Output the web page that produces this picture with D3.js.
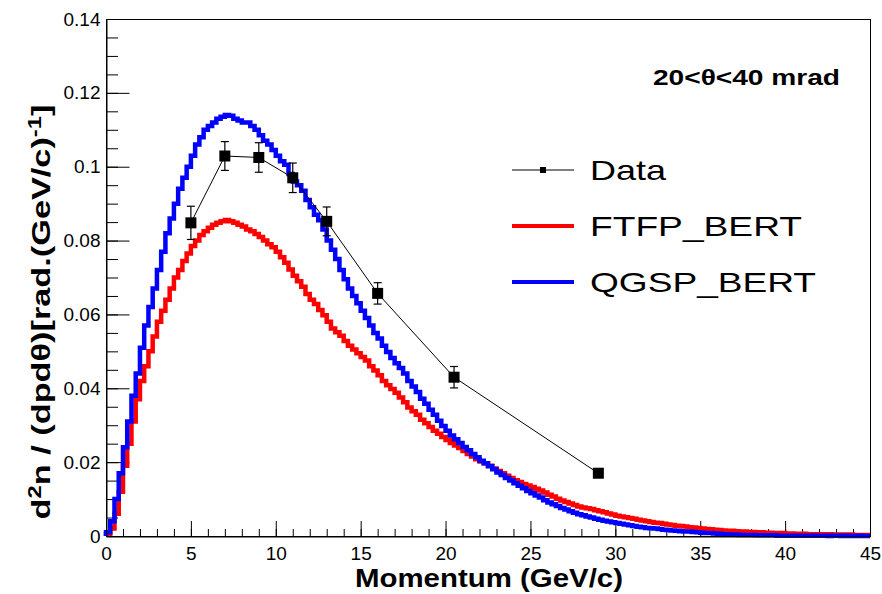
<!DOCTYPE html>
<html>
<head>
<meta charset="utf-8">
<script src="https://cdn.jsdelivr.net/npm/d3@7"></script>
<style>
body { margin: 0; background: #fff; }
svg text { font-family: "Liberation Sans", Arial, Helvetica, sans-serif; fill: #000; }
</style>
</head>
<body>
<div id="chart"></div>
<script>
// histogram bins: 0.25 GeV/c wide, 0..45
var binWidth = 0.25

// FTFP_BERT (red), one row = 1 GeV/c
var ftfpValues = [
    0.0005, 0.002, 0.006, 0.012,
    0.019, 0.025, 0.031, 0.037,
    0.042, 0.046, 0.050, 0.054,
    0.058, 0.061, 0.064, 0.067,
    0.070, 0.072, 0.0745, 0.0765,
    0.0785, 0.080, 0.0815, 0.0825,
    0.0835, 0.0843, 0.0848, 0.0852,
    0.0856, 0.0852, 0.0848, 0.0843,
    0.0838, 0.083, 0.0825, 0.0818,
    0.081, 0.080, 0.079, 0.0782,
    0.077, 0.0755, 0.074, 0.0722,
    0.0705, 0.069, 0.0675, 0.0655,
    0.064, 0.0628, 0.0612, 0.0598,
    0.058, 0.0562, 0.0552, 0.0542,
    0.0528, 0.0515, 0.0505, 0.0495,
    0.0485, 0.0475, 0.046, 0.0448,
    0.0435, 0.042, 0.0408, 0.0398,
    0.0388, 0.0375, 0.0362, 0.0348,
    0.0338, 0.0328, 0.0315, 0.0305,
    0.0295, 0.0285, 0.0277, 0.0268,
    0.026, 0.0252, 0.0245, 0.0238,
    0.023, 0.0222, 0.0215, 0.0208,
    0.0202, 0.0197, 0.019, 0.0183,
    0.0176, 0.017, 0.0163, 0.0157,
    0.0151, 0.0146, 0.0141, 0.0137,
    0.0133, 0.0128, 0.0123, 0.0118,
    0.0112, 0.0107, 0.0101, 0.0096,
    0.0092, 0.0088, 0.0084, 0.008,
    0.0077, 0.0075, 0.0073, 0.007,
    0.0067, 0.0064, 0.0061, 0.0058,
    0.0055, 0.0053, 0.0051, 0.0049,
    0.0047, 0.0044, 0.0042, 0.004,
    0.0038, 0.0036, 0.0035, 0.0033,
    0.0031, 0.003, 0.0028, 0.0027,
    0.0026, 0.0024, 0.0023, 0.0022,
    0.002, 0.0019, 0.0018, 0.0017,
    0.0016, 0.0015, 0.0014, 0.0014,
    0.0013, 0.0012, 0.0012, 0.0011,
    0.0011, 0.001, 0.001, 0.0009,
    0.0009, 0.0008, 0.0008, 0.0008,
    0.0007, 0.0007, 0.0006, 0.0006,
    0.0006, 0.0005, 0.0005, 0.0005,
    0.0005, 0.0004, 0.0005, 0.0004,
    0.0004, 0.0004, 0.0003, 0.0004,
    0.0003, 0.0003, 0.0003, 0.0003
]

// QGSP_BERT (blue)
var qgspValues = [
    0.001, 0.004, 0.010, 0.017,
    0.024, 0.031, 0.038, 0.044,
    0.051, 0.057, 0.062, 0.067,
    0.072, 0.077, 0.082, 0.086,
    0.090, 0.094, 0.097, 0.100,
    0.103, 0.106, 0.108, 0.110,
    0.111, 0.112, 0.113, 0.1135,
    0.114, 0.1138, 0.113, 0.1125,
    0.112, 0.112, 0.111, 0.110,
    0.1085, 0.107, 0.106, 0.1045,
    0.103, 0.1015, 0.1005, 0.098,
    0.096, 0.095, 0.0935, 0.091,
    0.089, 0.087, 0.0855, 0.083,
    0.080, 0.0775, 0.075, 0.072,
    0.0695, 0.067, 0.065, 0.063,
    0.061, 0.059, 0.057, 0.055,
    0.0535, 0.0515, 0.0498, 0.0482,
    0.0468, 0.0455, 0.044, 0.042,
    0.0405, 0.039, 0.0372, 0.0358,
    0.0342, 0.0328, 0.0312, 0.0298,
    0.0285, 0.0272, 0.0262, 0.0252,
    0.0241, 0.0232, 0.0222, 0.0213,
    0.0204, 0.0197, 0.0189, 0.0181,
    0.0172, 0.0165, 0.0157, 0.015,
    0.0143, 0.0136, 0.0129, 0.0122,
    0.0116, 0.011, 0.0104, 0.0097,
    0.0091, 0.0086, 0.0081, 0.0076,
    0.0072, 0.0067, 0.0063, 0.0059,
    0.0056, 0.0053, 0.0050, 0.0047,
    0.0044, 0.0041, 0.0039, 0.0037,
    0.0035, 0.0033, 0.0031, 0.0029,
    0.0027, 0.0025, 0.0024, 0.0022,
    0.0021, 0.002, 0.0019, 0.0017,
    0.0016, 0.0015, 0.0014, 0.0013,
    0.0012, 0.0012, 0.0011, 0.001,
    0.0009, 0.0008, 0.0008, 0.0007,
    0.0006, 0.0005, 0.0005, 0.0004,
    0.0004, 0.0003, 0.0003, 0.0003,
    0.0003, 0.0002, 0.0002, 0.0002,
    0.0002, 0.0002, 0.0001, 0.0001,
    0.0001, 0.0001, 0.0001, 0.0001,
    0.0001, 0.0001, 0.0001, 0.0001,
    0.0001, 0.0001, 0.0000, 0.0001,
    0.0001, 0.0000, 0.0001, 0.0000,
    0.0000, 0.0001, 0.0000, 0.0000
]

// measured points
var dataMomentum = [5, 7, 9, 11, 13, 16, 20.5, 29]
var dataValues = [0.0848, 0.1029, 0.1025, 0.0970, 0.0852, 0.0657, 0.0430, 0.0170]
var dataErrors = [0.0045, 0.0039, 0.0040, 0.0040, 0.0039, 0.0029, 0.0029, 0.0010]

var xTicks = [0, 5, 10, 15, 20, 25, 30, 35, 40, 45]
var yTicks = [0, 0.02, 0.04, 0.06, 0.08, 0.1, 0.12, 0.14]
var yTickLabels = ["0", "0.02", "0.04", "0.06", "0.08", "0.1", "0.12", "0.14"]
var legendLabels = ["Data", "FTFP_BERT", "QGSP_BERT"]

function drawChart() {
    var width = 882, height = 594
    var padL = 106, padR = 870, padT = 19, padB = 536

    var svg = d3.select('#chart').append('svg')
        .attr('width', width)
        .attr('height', height)

    svg.append('rect').attr('width', width).attr('height', height).attr('fill', '#fff')

    var x = d3.scaleLinear().domain([0, 45]).range([padL, padR])
    var y = d3.scaleLinear().domain([0, 0.14]).range([padB, padT])

    // minor ticks first
    svg.append('g')
        .attr('transform', 'translate(' + (padL + 0.5) + ',0)')
        .call(d3.axisLeft(y).tickValues(d3.range(0, 0.1401, 0.005)).tickSize(-11.5).tickFormat(''))
        .call(function(g) { g.select('.domain').remove() })

    svg.append('g')
        .attr('transform', 'translate(0,' + (padB + 0.5) + ')')
        .call(d3.axisBottom(x).tickValues(d3.range(0, 46, 1)).tickSize(-7.5).tickFormat(''))
        .call(function(g) { g.select('.domain').remove() })

    // major ticks + labels
    var yAxis = svg.append('g')
        .attr('transform', 'translate(' + (padL + 0.5) + ',0)')
        .call(d3.axisLeft(y).tickValues(yTicks).tickSize(-23).tickSizeOuter(0).tickPadding(6)
            .tickFormat(function(d, i) { return yTickLabels[i] }))
    yAxis.attr('font-size', 19).attr('font-family', null)

    var xAxis = svg.append('g')
        .attr('transform', 'translate(0,' + (padB + 0.5) + ')')
        .call(d3.axisBottom(x).tickValues(xTicks).tickSize(-15.5).tickSizeOuter(0).tickPadding(10))
    xAxis.attr('font-size', 19).attr('font-family', null)

    svg.selectAll('.tick line').attr('stroke', '#000')
    svg.selectAll('.domain').attr('stroke', '#000')

    // histograms as steps
    function histPoints(values) {
        var pts = [[0, 0]]
        values.forEach(function(v, i) { pts.push([i * binWidth, v]) })
        pts.push([45, values[values.length - 1]])
        return pts
    }

    var stepLine = d3.line()
        .x(function(d) { return x(d[0]) })
        .y(function(d) { return y(d[1]) })
        .curve(d3.curveStepAfter)

    svg.append('path')
        .datum(histPoints(ftfpValues))
        .attr('d', stepLine)
        .attr('fill', 'none')
        .attr('stroke', '#ff0000')
        .attr('stroke-width', 4.5)

    svg.append('path')
        .datum(histPoints(qgspValues))
        .attr('d', stepLine)
        .attr('fill', 'none')
        .attr('stroke', '#0000ff')
        .attr('stroke-width', 4.5)

    // data: line, error bars, markers
    var pts = dataMomentum.map(function(p, i) { return { p: p, v: dataValues[i], e: dataErrors[i] } })

    svg.append('path')
        .datum(pts)
        .attr('d', d3.line().x(function(d) { return x(d.p) }).y(function(d) { return y(d.v) }))
        .attr('fill', 'none')
        .attr('stroke', '#000')
        .attr('stroke-width', 1)

    var errG = svg.append('g').attr('stroke', '#000').attr('stroke-width', 1.2)
    pts.forEach(function(d) {
        var cx = x(d.p)
        errG.append('line').attr('x1', cx).attr('x2', cx).attr('y1', y(d.v - d.e)).attr('y2', y(d.v + d.e))
        errG.append('line').attr('x1', cx - 4).attr('x2', cx + 4).attr('y1', y(d.v - d.e)).attr('y2', y(d.v - d.e))
        errG.append('line').attr('x1', cx - 4).attr('x2', cx + 4).attr('y1', y(d.v + d.e)).attr('y2', y(d.v + d.e))
    })

    svg.selectAll('.marker')
        .data(pts)
        .enter().append('rect')
        .attr('class', 'marker')
        .attr('x', function(d) { return x(d.p) - 5.5 })
        .attr('y', function(d) { return y(d.v) - 5.5 })
        .attr('width', 11)
        .attr('height', 11)
        .attr('fill', '#000')

    // frame
    svg.append('rect')
        .attr('x', padL + 0.5).attr('y', padT + 0.5)
        .attr('width', padR - padL).attr('height', padB - padT)
        .attr('fill', 'none').attr('stroke', '#000').attr('stroke-width', 1)

    // legend
    var legendY = [170, 226, 282]
    var legendColors = ['#000', '#ff0000', '#0000ff']
    var legendWidths = [76, 212, 226]
    legendLabels.forEach(function(label, i) {
        var ly = legendY[i]
        svg.append('line')
            .attr('x1', 512).attr('x2', 574).attr('y1', ly).attr('y2', ly)
            .attr('stroke', legendColors[i])
            .attr('stroke-width', i == 0 ? 1 : 4)
        if (i == 0) {
            svg.append('rect').attr('x', 540).attr('y', ly - 3).attr('width', 6).attr('height', 6).attr('fill', '#000')
        }
        svg.append('text')
            .attr('x', 590).attr('y', ly + 10)
            .attr('font-size', 28)
            .attr('textLength', legendWidths[i])
            .attr('lengthAdjust', 'spacingAndGlyphs')
            .text(label)
    })

    // angle range label
    svg.append('text')
        .attr('x', 653).attr('y', 85)
        .attr('font-size', 22)
        .attr('font-weight', 'bold')
        .attr('textLength', 187)
        .attr('lengthAdjust', 'spacingAndGlyphs')
        .text('20<θ<40 mrad')

    // x title
    svg.append('text')
        .attr('x', 355).attr('y', 587)
        .attr('font-size', 26)
        .attr('font-weight', 'bold')
        .attr('textLength', 268)
        .attr('lengthAdjust', 'spacingAndGlyphs')
        .text('Momentum (GeV/c)')

    // y title, stretched to the reference length
    var yTitle = svg.append('text')
        .attr('font-size', 26)
        .attr('font-weight', 'bold')
        .attr('text-anchor', 'middle')
    yTitle.append('tspan').text('d')
    yTitle.append('tspan').attr('baseline-shift', 'super').attr('font-size', 18).text('2')
    yTitle.append('tspan').text('n / (dpdθ)[rad.(GeV/c)')
    yTitle.append('tspan').attr('baseline-shift', 'super').attr('font-size', 18).text('-1')
    yTitle.append('tspan').text(']')
    var titleLen = yTitle.node().getComputedTextLength()
    yTitle.attr('transform', 'translate(50,312) rotate(-90) scale(' + (415 / titleLen) + ',1)')
}

drawChart()
</script>
</body>
</html>
